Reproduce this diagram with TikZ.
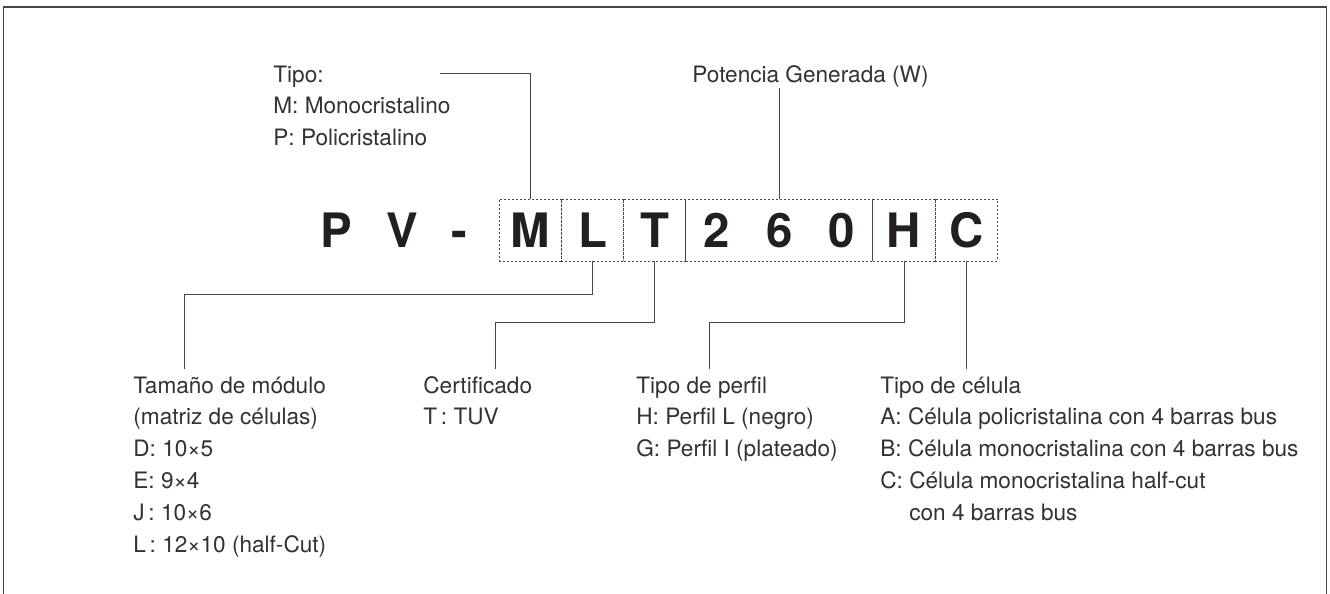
\documentclass[tikz,border=0pt]{standalone}
\usepackage{fontspec}
\setmainfont{TeX Gyre Heros}
\usetikzlibrary{positioning, calc}
\definecolor{ink}{RGB}{35,31,32}
\definecolor{label}{RGB}{50,50,50}
\definecolor{rule}{RGB}{70,70,70}

\begin{document}
\begin{tikzpicture}[x=0.5pt, y=-0.5pt,
    cell/.style={draw=rule, line width=0.5pt, dash pattern=on 1pt off 1pt,
                 minimum width=31.15pt, minimum height=31pt, inner sep=0pt, outer sep=0pt,
                 text=ink, font=\fontsize{23.7}{28}\selectfont\bfseries,
                 text height=17pt, text depth=0pt},
    letter/.style={cell, draw=none},
    desc/.style={anchor=base west, align=left, inner sep=0pt, text=label,
                 font=\fontsize{11.3}{15.9}\selectfont},
    link/.style={draw=rule, line width=0.5pt}]

\useasboundingbox (0,0) rectangle (1330,594);
% frame, open at the bottom
\draw[rule, line width=0.6pt] (3.5,594) -- (3.5,7) -- (1326.5,7) -- (1326.5,594);

% model code
\node[letter] (cP) at (336,230) {P};
\node[letter] (cV) at (402,230) {V};
\node[letter] (cD) at (459.5,230) {-};
\node[cell] (bM) at (530.2,230) {M};
\node[cell, right=0pt of bM] (bL) {L};
\node[cell, right=0pt of bL] (bT) {T};
\node[cell, right=0pt of bT, minimum width=93.45pt] (bW)
  {\makebox[31.15pt]{2}\makebox[31.15pt]{6}\makebox[31.15pt]{0}};
\node[cell, right=0pt of bW] (bH) {H};
\node[cell, right=0pt of bH] (bC) {C};

% labels (placed at the baseline of their last line)
\node[desc] (tipo) at (273,145.6) {Tipo:\\M: Monocristalino\\P: Policristalino};
\node[desc] (pot) at (692,83) {Potencia Generada (W)};
\node[desc] (tam) at (133,552) {Tama\~no de m\'odulo\\(matriz de c\'elulas)\\D: 10×5\\E: 9×4\\J\,: 10×6\\L\,: 12×10 (half-Cut)};
\node[desc] (cert) at (423,424.8) {Certificado\\T\,: TUV};
\node[desc] (perf) at (636,456.6) {Tipo de perfil\\H: Perfil L (negro)\\G: Perfil I (plateado)};
\node[desc] (cel) at (880,520.2) {Tipo de c\'elula\\A: C\'elula policristalina con 4 barras bus\\B: C\'elula monocristalina con 4 barras bus\\C: C\'elula monocristalina half-cut\\\phantom{C:\ }con 4 barras bus};

% connectors
\coordinate (tipoEnd) at (440,73);
\draw[link] (tipoEnd) -| (bM.north);
\draw[link] (bW.north) -- (bW.north |- pot.south);

\coordinate (kL) at (184,294);
\coordinate (eL) at (184,369);
\draw[link] (bL.south) |- (kL) -- (eL);
\coordinate (kT) at (495,322);
\coordinate (eT) at (495,369);
\draw[link] (bT.south) |- (kT) -- (eT);
\coordinate (kH) at (709,322);
\coordinate (eH) at (709,369);
\draw[link] (bH.south) |- (kH) -- (eH);
\coordinate (eC) at (bC.south |- eL);
\draw[link] (bC.south) -- (eC);
\end{tikzpicture}
\end{document}
